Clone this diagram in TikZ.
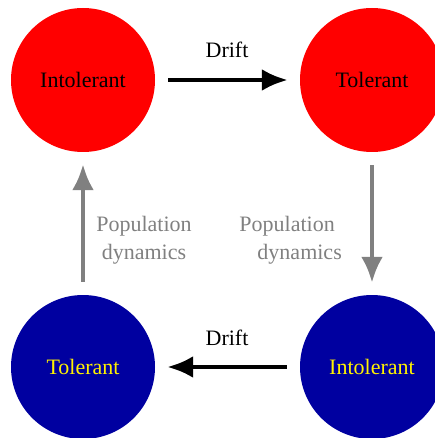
\documentclass[tikz,border=0pt]{standalone}
\usepackage{fontspec}
\setmainfont{Liberation Serif}
\usetikzlibrary{arrows.meta}
\definecolor{hot}{RGB}{255,0,0}
\definecolor{deep}{RGB}{0,0,160}
\definecolor{popgray}{RGB}{128,128,128}
\tikzstyle{state}=[circle, inner sep=0pt, minimum size=144pt, font=\fontsize{22}{28}\selectfont]
\tikzstyle{red}=[state, fill=hot, text=black]
\tikzstyle{blue}=[state, fill=deep, text=yellow]
\tikzstyle{lbl}=[inner sep=0pt, font=\fontsize{22}{28}\selectfont]
\tikzstyle{drift}=[line width=4.5pt, -{Latex[length=26pt,width=22pt]}, shorten >=12pt, shorten <=13pt]
\tikzstyle{dyn}=[drift, draw=popgray]
\begin{document}
\begin{tikzpicture}[x=1pt,y=-1pt]
				\useasboundingbox (0,0) rectangle (435,438);
				\clip (0,0) rectangle (435,438);
				
				%The states
				\draw (83,80) node[red] (it) {Intolerant};
				\draw (372,80) node[red] (tt) {Tolerant};
				\draw (83,367) node[blue] (tb) {Tolerant};
				\draw (372,367) node[blue] (ib) {Intolerant};
				
				%The labels
				\draw (227,50) node[lbl] (d1) {Drift};
				\draw (227,338) node[lbl] (d2) {Drift};
				\draw (144,240) node[lbl, text=popgray, align=center] (p1) {Population\\dynamics};
				\draw (342,240) node[lbl, text=popgray, align=right, anchor=east] (p2) {Population\kern7pt\\dynamics};
				
				\draw[drift] (it) -- (tt);
				\draw[dyn] (tt) -- (ib);
				\draw[drift] (ib) -- (tb);
				\draw[dyn] (tb) -- (it);
			\end{tikzpicture}
\end{document}
